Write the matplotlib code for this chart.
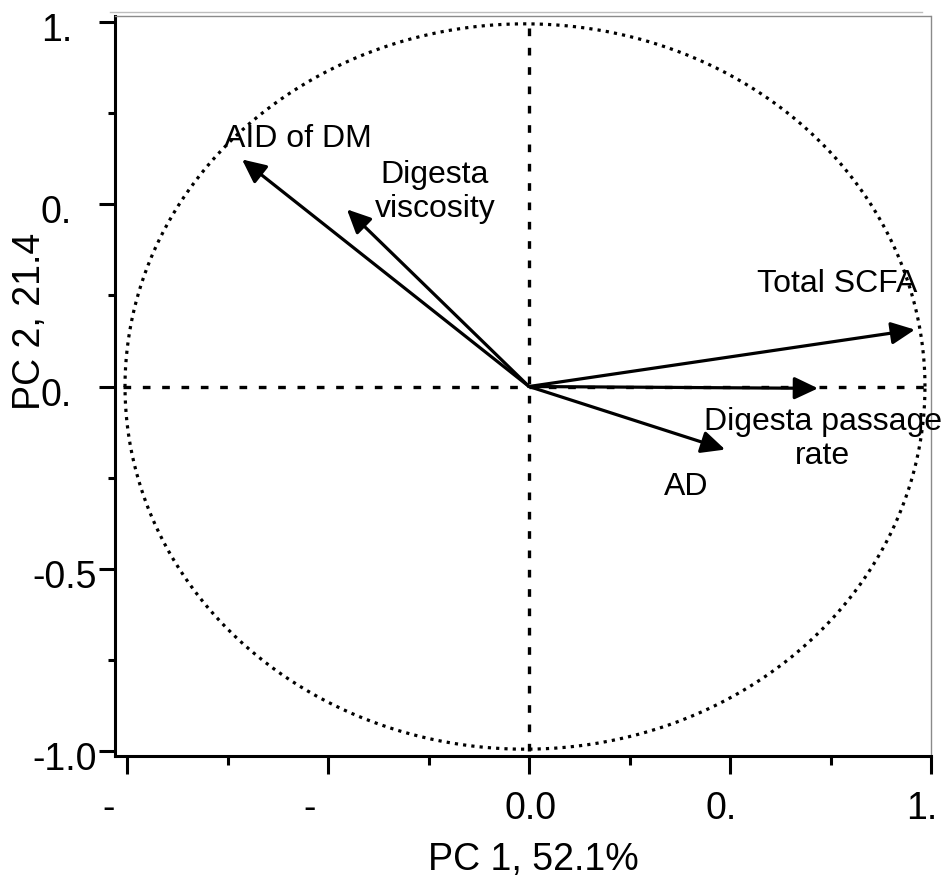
import matplotlib
matplotlib.use("Agg")
import matplotlib.pyplot as plt
import numpy as np
from matplotlib import transforms
from matplotlib.lines import Line2D

plt.rcParams['font.family'] = ['Liberation Sans', 'DejaVu Sans']

# Loadings of each variable on the first two principal components
variables = ["AID of DM", "Digesta\nviscosity", "Total SCFA",
             "Digesta passage\nrate", "AD"]
pc1 = [-0.714, -0.453, 0.960, 0.719, 0.488]
pc2 = [0.623, 0.486, 0.156, -0.005, -0.173]

# Where each variable's name is written
label_x = [-0.575, -0.234, 0.766, 0.731, 0.390]
label_y = [0.683, 0.537, 0.284, -0.141, -0.273]

x_ticks = [-1.0, -0.5, 0.0, 0.5, 1.0]
x_ticklabels = ["-", "-", "0.0", "0.", "1."]
y_ticks = [-1.0, -0.5, 0.0, 0.5, 1.0]
y_ticklabels = ["-1.0", "-0.5", "0.", "0.", "1."]

x_title = "PC 1, 52.1%"
y_title = "PC 2, 21.4"

W, H, DPI = 944, 879, 100
fig = plt.figure(figsize=(W / DPI, H / DPI), dpi=DPI)
ax = fig.add_axes([115 / W, 1 - 757 / H, (931 - 115) / W, (757 - 17) / H])
ax.set_xlim(-1.0299, 1.0)
ax.set_ylim(-1.0137, 1.0165)

# correlation circle
t = np.linspace(0, 2 * np.pi, 721)
ax.plot(-0.01 + 0.995 * np.cos(t), 0.995 * np.sin(t), color='black',
        lw=2.3, linestyle=(0, (1.0, 1.6)), dash_capstyle='butt')

# dashed zero lines
ax.plot([-1.01, 0.985], [0, 0], color='black', lw=2.4,
        dashes=(2.3, 3.5), dash_capstyle='butt')
ax.plot([0, 0], [-1.0, 1.0], color='black', lw=2.4,
        dashes=(2.3, 3.5), dash_capstyle='butt')

# loading vectors
for x, y in zip(pc1, pc2):
    ax.annotate('', xy=(x, y), xytext=(0, 0),
                arrowprops=dict(arrowstyle='-|>,head_length=0.72,head_width=0.34',
                                mutation_scale=20, lw=2.3, color='black',
                                shrinkA=0, shrinkB=0))

for name, x, y in zip(variables, label_x, label_y):
    ax.text(x, y, name, fontsize=23, ha='center', va='center',
            multialignment='center', linespacing=1.15, color='black')

# axes frame
for s in ('left', 'bottom'):
    ax.spines[s].set_linewidth(2.2)
for s in ('top', 'right'):
    ax.spines[s].set_linewidth(1.0)
    ax.spines[s].set_color('#8a8a8a')
    ax.spines[s].set_linestyle((0, (1, 1)))

ax.set_xticks(x_ticks)
ax.set_yticks(y_ticks)
ax.set_xticks([-0.75, -0.25, 0.25, 0.75], minor=True)
ax.set_yticks([-0.75, -0.25, 0.25, 0.75], minor=True)
ax.tick_params(which='major', axis='x', direction='out', length=13, width=2.2,
               labelbottom=False)
ax.tick_params(which='minor', axis='x', direction='out', length=6.5, width=2.2)
ax.tick_params(which='major', axis='y', direction='out', length=11.5, width=2.2,
               labelleft=False)
ax.tick_params(which='minor', axis='y', direction='out', length=5, width=2.2)

px = fig.dpi_scale_trans
tick_fs = 27

# x tick labels
xtr = transforms.blended_transform_factory(ax.transData, ax.transAxes)
for v, s in zip(x_ticks, x_ticklabels):
    ax.text(v, 0, s, fontsize=tick_fs, ha='left', va='center',
            transform=xtr + transforms.ScaledTranslation(-0.25, -0.52, px))

# y tick labels (right-aligned; shortened labels end one digit earlier)
ytr = transforms.blended_transform_factory(ax.transAxes, ax.transData)
for v, s in zip(y_ticks, y_ticklabels):
    shift = 0.18 if s[-1].isdigit() else 0.43
    ax.text(0, v, s, fontsize=tick_fs, ha='right', va='center',
            transform=ytr + transforms.ScaledTranslation(-shift, -0.08, px))

fig.text(533 / W, 1 - 870 / H, x_title, fontsize=27, ha='center', va='baseline')
fig.text(30 / W, 1 - 410 / H, y_title, fontsize=27, ha='center', va='bottom',
         rotation=90)

# thin rule above the frame
fig.add_artist(Line2D([110 / W, 922 / W], [1 - 13 / H, 1 - 13 / H],
                      transform=fig.transFigure, color='#bdbdbd', lw=1.0))

fig.savefig("out.png", dpi=DPI, facecolor='white')
